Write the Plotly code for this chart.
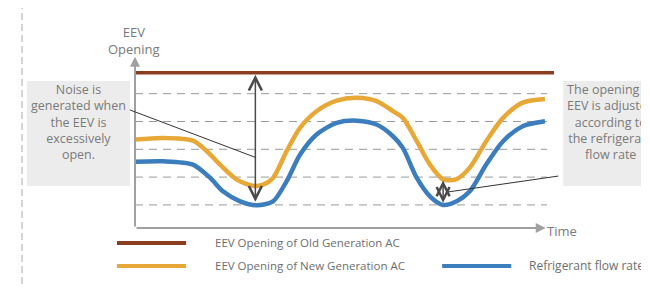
import plotly.graph_objects as go

# ---------------- data (time units 0..102, opening units) ----------------
old_t = [0, 102]
old_v = [5.75, 5.75]

new_t = [0, 6.8, 14.1, 17.5, 20.7, 24.8, 28.9, 31.2, 33.6, 36.9, 40.2, 44.2, 49.1, 54.0,
         58.8, 62.8, 65.2, 68.6, 71.8, 75.0, 78.3, 81.5, 85.5, 89.6, 94.4, 99.8]
new_v = [3.35, 3.41, 3.31, 2.93, 2.45, 1.91, 1.68, 1.73, 1.97, 2.93, 3.78, 4.37, 4.75, 4.85,
         4.73, 4.37, 4.13, 3.29, 2.45, 1.92, 1.93, 2.34, 3.29, 4.13, 4.68, 4.81]

flow_t = [0, 6.8, 14.1, 18.3, 21.4, 25.6, 29.6, 33.6, 36.9, 40.2, 44.2, 49.1, 54.0,
          58.8, 62.8, 65.2, 68.6, 71.8, 75.0, 78.3, 81.5, 85.5, 89.6, 94.4, 99.8]
flow_v = [2.55, 2.57, 2.45, 1.97, 1.49, 1.13, 0.99, 1.13, 1.85, 2.81, 3.53, 3.95, 4.03,
          3.89, 3.47, 3.05, 1.97, 1.31, 1.00, 1.13, 1.49, 2.45, 3.29, 3.83, 4.01]

grid_levels = [1, 2, 3, 4, 5]

series_names = ["EEV Opening of Old Generation AC",
                "EEV Opening of New Generation AC",
                "Refrigerant flow rate"]
series_colors = ["#8B3D1F", "#E8A838", "#3C7DBD"]

y_label = "EEV<br>Opening"
x_label = "Time"
note_left = "Noise is<br>generated when<br>the EEV is<br>excessively<br>open."
note_right = "The opening of<br>EEV is adjusted<br>according to<br>the refrigerant<br>flow rate"

# big double arrow (old vs flow min) and small one (new vs flow at 2nd min)
big_t, big_top, big_bot = 29.3, 5.68, 1.06
small_t, small_top, small_bot = 75.0, 1.88, 1.02

X_RANGE = [0, 102]
Y_RANGE = [0.17, 6.57]
X_AXIS_END = 100.0
Y_AXIS_END = 6.33

FONT = "Open Sans, Noto Sans, sans-serif"
TXT = "#7a7a7a"

fig = go.Figure()

for t, v, name, col, w in [(old_t, old_v, series_names[0], series_colors[0], 3.5),
                           (new_t, new_v, series_names[1], series_colors[1], 4.5),
                           (flow_t, flow_v, series_names[2], series_colors[2], 4.5)]:
    fig.add_trace(go.Scatter(x=t, y=v, mode="lines", name=name,
                             line=dict(color=col, width=w, shape="spline", smoothing=0.8),
                             showlegend=False, hoverinfo="skip"))

shapes = []
# dashed grid lines
for g in grid_levels:
    shapes.append(dict(type="line", xref="x", yref="y", x0=0, x1=X_AXIS_END + 0.3, y0=g, y1=g,
                       line=dict(color="#9a9a9a", width=1, dash="8px,6px"), layer="below"))
# outer dashed frame
shapes.append(dict(type="rect", xref="paper", yref="paper", x0=-0.2697, x1=1.4, y0=-0.5, y1=1.244,
                   line=dict(color="#c8c8c8", width=1.5, dash="7px,4px"), layer="below"))
# note boxes
shapes.append(dict(type="rect", xref="paper", yref="paper", x0=-0.258, x1=-0.012, y0=0.236, y1=0.826,
                   fillcolor="#ececec", line=dict(width=0), layer="below"))
shapes.append(dict(type="rect", xref="paper", yref="paper", x0=1.022, x1=1.3, y0=0.236, y1=0.826,
                   fillcolor="#ececec", line=dict(width=0), layer="below"))
# legend lines
leg_rows = [-0.084, -0.213, -0.213]
leg_x0 = [-0.043, -0.043, 0.733]
for i in range(3):
    shapes.append(dict(type="line", xref="paper", yref="paper", x0=leg_x0[i], x1=leg_x0[i] + 0.165,
                       y0=leg_rows[i], y1=leg_rows[i], line=dict(color=series_colors[i], width=4)))

annotations = []
# axes with arrow heads
annotations.append(dict(x=X_AXIS_END, y=Y_RANGE[0], ax=0, ay=Y_RANGE[0], xref="x", yref="y",
                        axref="x", ayref="y", text="", showarrow=True, arrowhead=2,
                        arrowsize=1.0, arrowwidth=2, arrowcolor="#a0a0a0"))
annotations.append(dict(x=0, y=Y_AXIS_END, ax=0, ay=Y_RANGE[0], xref="x", yref="y",
                        axref="x", ayref="y", text="", showarrow=True, arrowhead=2,
                        arrowsize=1.0, arrowwidth=2, arrowcolor="#a0a0a0"))
# double arrows
for t, top, bot in [(big_t, big_top, big_bot), (small_t, small_top, small_bot)]:
    annotations.append(dict(x=t, y=top, ax=t, ay=bot, xref="x", yref="y", axref="x", ayref="y",
                            text="", showarrow=True, arrowhead=5, startarrowhead=5,
                            arrowside="end+start", arrowsize=1.7, startarrowsize=1.7,
                            arrowwidth=1.5, arrowcolor="#4a4a4a"))
# leader lines
annotations.append(dict(x=big_t, y=2.71, xref="x", yref="y", ax=-127, ay=-48, text="",
                        showarrow=True, arrowhead=0, arrowwidth=1, arrowcolor="#333333"))
annotations.append(dict(x=76.4, y=1.47, xref="x", yref="y", ax=111, ay=-16, text="",
                        showarrow=True, arrowhead=0, arrowwidth=1, arrowcolor="#333333"))
# axis labels
annotations.append(dict(x=0, y=Y_AXIS_END, xref="x", yref="y", text=y_label, showarrow=False,
                        xanchor="center", yanchor="bottom", xshift=-1, yshift=-3,
                        font=dict(family=FONT, size=13, color=TXT)))
annotations.append(dict(x=X_AXIS_END, y=Y_RANGE[0], xref="x", yref="y", text=x_label, showarrow=False,
                        xanchor="left", yanchor="middle", xshift=-1, yshift=-3,
                        font=dict(family=FONT, size=13, color=TXT)))
# notes
annotations.append(dict(x=-0.135, y=0.594, xref="paper", yref="paper", text=note_left, showarrow=False,
                        xanchor="center", yanchor="middle", align="center",
                        font=dict(family=FONT, size=12.5, color=TXT)))
annotations.append(dict(x=1.136, y=0.594, xref="paper", yref="paper", text=note_right, showarrow=False,
                        xanchor="center", yanchor="middle", align="center",
                        font=dict(family=FONT, size=12.5, color=TXT)))
# legend texts
leg_tx = [0.186, 0.186, 0.936]
leg_sz = [11.5, 11.5, 12]
for i in range(3):
    annotations.append(dict(x=leg_tx[i], y=leg_rows[i], xref="paper", yref="paper", text=series_names[i],
                            showarrow=False, xanchor="left", yanchor="middle",
                            font=dict(family=FONT, size=leg_sz[i], color="#6e6e6e")))

fig.update_layout(
    width=649, height=288,
    margin=dict(l=127, r=103, t=42, b=68),
    paper_bgcolor="white", plot_bgcolor="white",
    xaxis=dict(range=X_RANGE, visible=False, fixedrange=True),
    yaxis=dict(range=Y_RANGE, visible=False, fixedrange=True),
    shapes=shapes, annotations=annotations,
    showlegend=False,
)

fig.write_html("out.html")
